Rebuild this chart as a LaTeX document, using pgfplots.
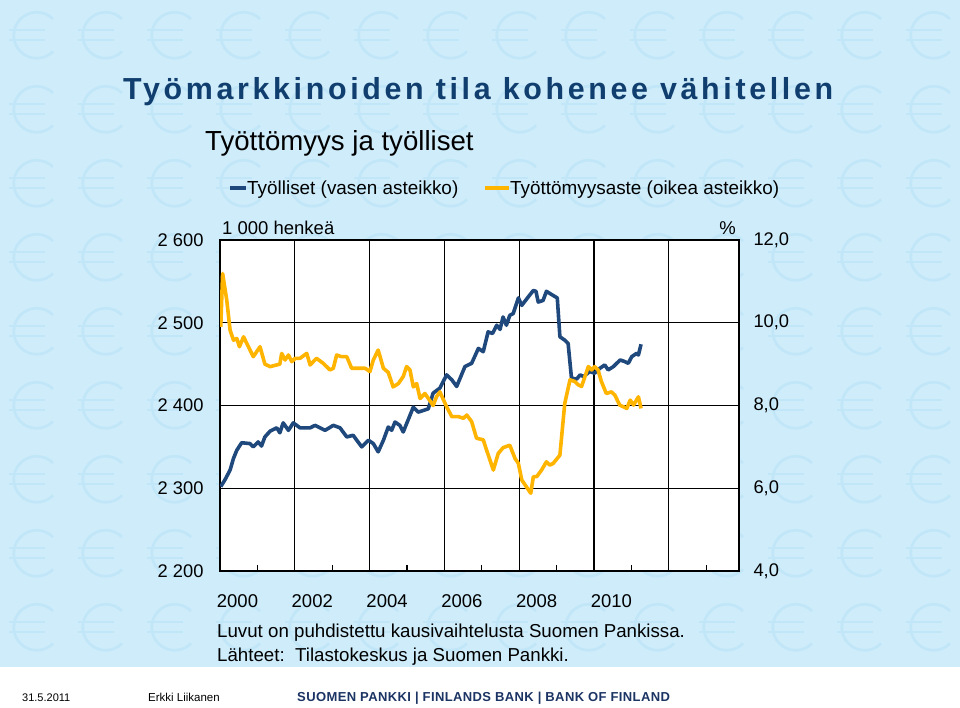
\documentclass[border=0pt]{standalone}
\usepackage{pgfplots}
\pgfplotsset{compat=1.18}
\usepackage{fontspec}
\setmainfont{Liberation Sans}
\newfontfamily\titlefont[LetterSpace=12]{Liberation Sans}
\newfontfamily\bankfont[LetterSpace=3]{Liberation Sans}
\definecolor{bgblue}{RGB}{206,236,250}
\definecolor{eurob}{RGB}{193,230,248}
\definecolor{emp}{RGB}{31,73,125}
\definecolor{unemp}{RGB}{255,180,0}
\definecolor{titleblue}{RGB}{16,62,110}
\definecolor{bankblue}{RGB}{28,52,100}

\pgfplotstableread{
year val
2000.02 2302
2000.13 2310
2000.27 2322
2000.36 2336
2000.45 2346
2000.58 2355
2000.80 2354
2000.89 2350
2001.02 2356
2001.11 2351
2001.20 2362
2001.34 2369
2001.52 2373
2001.60 2367
2001.69 2379
2001.83 2370
2001.96 2379
2002.14 2373
2002.41 2373
2002.54 2376
2002.81 2370
2003.03 2376
2003.21 2373
2003.39 2362
2003.56 2364
2003.79 2350
2003.97 2358
2004.10 2354
2004.23 2344
2004.37 2358
2004.50 2374
2004.59 2370
2004.68 2380
2004.81 2376
2004.90 2368
2005.08 2388
2005.17 2398
2005.30 2392
2005.44 2394
2005.57 2396
2005.70 2415
2005.88 2421
2006.06 2437
2006.20 2431
2006.33 2423
2006.55 2447
2006.73 2451
2006.91 2469
2007.04 2465
2007.17 2489
2007.29 2487
2007.40 2497
2007.49 2492
2007.57 2507
2007.66 2497
2007.75 2509
2007.84 2511
2007.98 2530
2008.07 2521
2008.24 2531
2008.38 2539
2008.45 2538
2008.51 2525
2008.64 2527
2008.73 2538
2008.87 2534
2009.02 2530
2009.09 2483
2009.22 2479
2009.31 2475
2009.40 2433
2009.54 2432
2009.63 2437
2009.72 2435
2009.89 2441
2010.02 2439
2010.16 2445
2010.29 2449
2010.38 2443
2010.52 2447
2010.70 2455
2010.83 2453
2010.92 2451
2011.01 2459
2011.14 2463
2011.19 2461
2011.26 2474
}\emptable

\pgfplotstableread{
year val
2000.02 9.90
2000.07 11.19
2000.18 10.55
2000.27 9.82
2000.36 9.58
2000.45 9.62
2000.52 9.42
2000.63 9.66
2000.76 9.42
2000.89 9.18
2001.07 9.42
2001.20 9.00
2001.34 8.94
2001.47 8.97
2001.60 9.00
2001.65 9.26
2001.74 9.10
2001.83 9.22
2001.92 9.06
2002.01 9.14
2002.14 9.14
2002.32 9.26
2002.41 8.98
2002.58 9.14
2002.76 9.02
2002.94 8.86
2003.03 8.90
2003.12 9.22
2003.25 9.18
2003.39 9.18
2003.52 8.90
2003.70 8.90
2003.88 8.90
2004.01 8.82
2004.10 9.10
2004.23 9.34
2004.37 8.90
2004.50 8.80
2004.63 8.45
2004.77 8.53
2004.90 8.70
2004.99 8.94
2005.08 8.86
2005.17 8.45
2005.26 8.53
2005.35 8.17
2005.48 8.29
2005.61 8.12
2005.70 8.00
2005.79 8.21
2005.88 8.33
2006.06 7.97
2006.20 7.73
2006.38 7.73
2006.51 7.69
2006.60 7.77
2006.73 7.61
2006.86 7.21
2007.04 7.17
2007.13 6.92
2007.31 6.44
2007.44 6.84
2007.57 6.98
2007.75 7.04
2007.89 6.72
2007.98 6.60
2008.07 6.20
2008.31 5.88
2008.38 6.28
2008.47 6.28
2008.60 6.44
2008.73 6.64
2008.82 6.56
2008.91 6.60
2009.09 6.80
2009.22 8.05
2009.36 8.62
2009.49 8.58
2009.58 8.50
2009.67 8.46
2009.76 8.70
2009.85 8.94
2009.94 8.86
2010.02 8.94
2010.11 8.86
2010.20 8.58
2010.33 8.29
2010.47 8.33
2010.56 8.25
2010.69 8.01
2010.88 7.93
2010.97 8.13
2011.06 8.01
2011.19 8.21
2011.26 7.93
}\unemptable

\begin{document}
\begin{tikzpicture}[x=1pt,y=1pt]
\fill[bgblue] (0,40) rectangle (960,707);
\fill[white] (0,0) rectangle (960,40);
% faint euro background pattern
\begin{scope}
\clip (0,40) rectangle (960,707);
\foreach \i in {0,...,13} {
  \foreach \j in {0,...,9} {
    \pgfmathsetmacro{\cx}{37+69*\i}
    \pgfmathsetmacro{\cy}{672-74*\j}
    \draw[eurob, line width=2.6pt] (\cx+16,\cy+16) arc[start angle=45, end angle=315, radius=23];
    \draw[eurob, line width=2.2pt] (\cx-28,\cy+5) -- (\cx+8,\cy+5);
    \draw[eurob, line width=2.2pt] (\cx-28,\cy-5) -- (\cx+8,\cy-5);
  }
}
\end{scope}

% titles
\node[anchor=base west, inner sep=0, text=titleblue] at (123,607)
  {\titlefont\bfseries\fontsize{30.4}{36}\selectfont Työmarkkinoiden tila kohenee vähitellen};
\node[anchor=base west, inner sep=0] at (205,556)
  {\fontsize{27.6}{32}\selectfont Työttömyys ja työlliset};

% legend
\draw[emp, line width=3.5pt] (230,519) -- (246,519);
\node[anchor=base west, inner sep=0] at (247,512) {\fontsize{18.9}{22}\selectfont Työlliset (vasen asteikko)};
\draw[unemp, line width=3.5pt] (485,519) -- (509,519);
\node[anchor=base west, inner sep=0] at (510,512) {\fontsize{18.9}{22}\selectfont Työttömyysaste (oikea asteikko)};

% unit labels
\node[anchor=base west, inner sep=0] at (222,472) {\fontsize{18.5}{22}\selectfont 1 000 henkeä};
\node[anchor=base east, inner sep=0] at (736,472) {\fontsize{18.5}{22}\selectfont \%};

\begin{axis}[
  at={(220pt,136pt)}, anchor=south west,
  scale only axis, width=519pt, height=331pt,
  xmin=2000, xmax=2013.88, ymin=2200, ymax=2600,
  axis background/.style={fill=white},
  xtick={2000,2002,...,2012},
  xticklabels={2000,2002,2004,2006,2008,2010,{}},
  minor xtick={2001,2003,...,2013},
  ytick={2200,2300,...,2600},
  yticklabels={2 200,2 300,2 400,2 500,2 600},
  grid=major,
  major grid style={black, line width=1.2pt},
  axis line style={black, line width=1.3pt},
  xtick pos=lower, ytick pos=left, tick align=inside,
  major tick length=0pt, minor tick length=6pt,
  minor tick style={black, line width=1.1pt},
  xticklabel style={font=\fontsize{18.5}{22}\selectfont, xshift=17.5pt, yshift=-20pt},
  yticklabel style={font=\fontsize{18.3}{22}\selectfont, xshift=-13pt},
]
\addplot[emp, line width=3.6pt, line join=round] table[x=year,y=val] {\emptable};
\end{axis}

\begin{axis}[
  at={(220pt,136pt)}, anchor=south west,
  scale only axis, width=519pt, height=331pt,
  xmin=2000, xmax=2013.88, ymin=4, ymax=12,
  axis x line=none, axis y line*=right,
  axis line style={draw=none},
  ytick={4,6,...,12},
  yticklabels={{4,0},{6,0},{8,0},{10,0},{12,0}},
  major tick length=0pt,
  yticklabel style={font=\fontsize{18.3}{22}\selectfont, anchor=west, xshift=11pt},
]
\addplot[unemp, line width=3.6pt, line join=round] table[x=year,y=val] {\unemptable};
\end{axis}

% notes
\node[anchor=base west, inner sep=0] at (217,70) {\fontsize{18.7}{22}\selectfont Luvut on puhdistettu kausivaihtelusta Suomen Pankissa.};
\node[anchor=base west, inner sep=0] at (217,46) {\fontsize{18.7}{22}\selectfont Lähteet:\ \ Tilastokeskus ja Suomen Pankki.};

% footer
\node[anchor=base west, inner sep=0] at (22,6) {\fontsize{11}{13}\selectfont 31.5.2011};
\node[anchor=base west, inner sep=0] at (148,6) {\fontsize{11.5}{13}\selectfont Erkki Liikanen};
\node[anchor=base west, inner sep=0, text=bankblue] at (297,6) {\bankfont\bfseries\fontsize{13}{15}\selectfont SUOMEN PANKKI | FINLANDS BANK | BANK OF FINLAND};
\end{tikzpicture}
\end{document}
